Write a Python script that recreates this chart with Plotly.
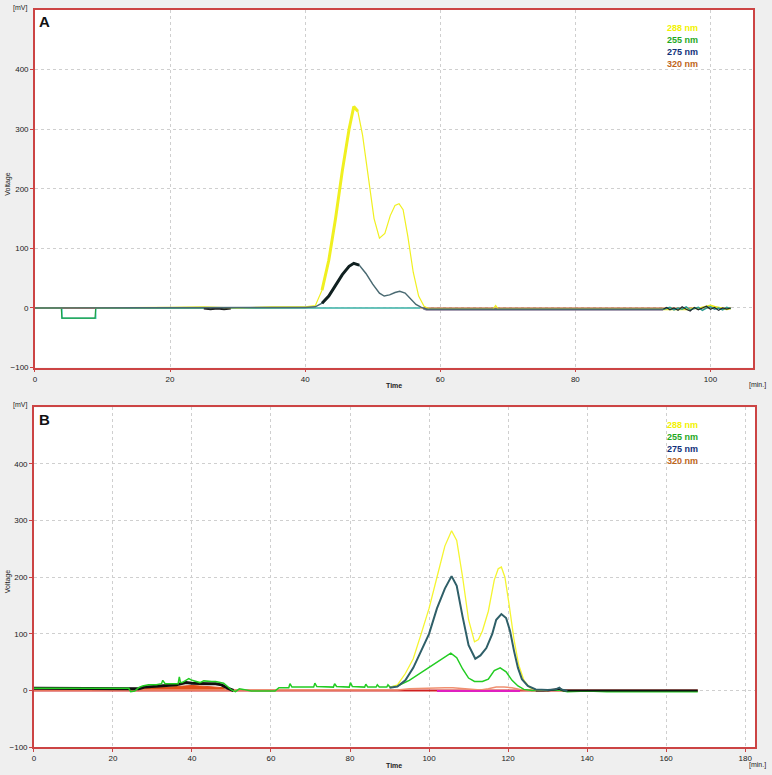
import plotly.graph_objects as go

# ---------- Painel A ----------
# 288 nm (amarelo)
ta_288 = [0, 5, 10, 15, 20, 25, 30, 35, 40, 41.5, 42.5, 43.5, 44.5, 45.5, 46.5, 47.2, 47.8,
          48.5, 49.3, 50.2, 51.0, 51.8, 52.6, 53.3, 53.9, 54.5, 55.2, 56.0, 56.8, 57.6, 58.5,
          65, 67.8, 68.2, 68.6, 75, 85, 93]
va_288 = [0, 0, 0, 0, 1, 2, 0, 2, 2, 4, 30, 80, 150, 230, 300, 338, 330,
          290, 220, 150, 117, 125, 155, 172, 175, 165, 120, 60, 20, 3, -2,
          -2, -2, 4, -2, -2, -2, -2]
# 275 nm (azul escuro / cinza)
ta_275 = [0, 10, 20, 30, 40, 41.5, 42.5, 43.5, 44.5, 45.5, 46.5, 47.2, 48, 49, 50, 51,
          51.7, 52.5, 53.3, 54, 54.8, 55.6, 56.4, 57.2, 58, 70, 85, 93]
va_275 = [0, 0, 0, 0, 1, 2, 8, 20, 38, 56, 70, 75, 72, 58, 40, 25,
          20, 22, 26, 28, 25, 15, 6, 1, -2, -2, -2, -2]
# 255 nm (verde) e ciano - degrau negativo no inicio
ta_255 = [0, 3.9, 4.0, 8.9, 9.0, 20, 22, 25, 30, 35, 40]
va_255 = [0, 0, -17, -17, 0, 0, 1, 0, 1, 1, 1]
ta_cyan = [0, 4, 4, 9, 9, 20, 40, 46, 52, 57]
va_cyan = [0, 0, -17, -17, 0, 0, 0, 1, 0, 0]
ta_mag = [4, 9]
va_mag = [0, 0]
# linha de base (roxo/cinza) depois dos picos
ta_base = [57.5, 58, 93]
va_base = [0, -2, -2]
# trechos pretos e ruido final
ta_blk1 = [25, 26, 27, 28, 29]
va_blk1 = [-1, -2, -1, -2, -1]
ta_noise = [93, 93.5, 94, 94.6, 95.2, 95.8, 96.4, 97, 97.6, 98.2, 98.8, 99.4, 100,
            100.6, 101.2, 101.8, 102.4, 103]
va_noise_blk = [-2, 1, -3, 0, -4, 2, -2, -5, 1, -3, 0, 3, -2, 1, -4, 0, -2, 0]
va_noise_teal = [-2, -1, 1, -3, 0, -2, 2, -3, -1, 1, -4, 0, 2, -2, 0, -3, 1, -1]
va_noise_yel = [-2, -2, -1, -2, -1, -2, -1, -2, 0, -1, 1, 3, 4, 2, 0, -1, -2, -1]

# ---------- Painel B ----------
tb_255 = [0, 5, 10, 15, 20, 24, 24.5, 25.5, 26.5, 27.5, 29, 31, 32.3, 32.6, 33.2, 35, 36.5,
          36.8, 37.1, 37.5, 38.5, 39.2, 40, 41, 42, 43, 44, 45, 46, 47, 48, 49, 50, 51,
          52, 53, 55, 58, 61, 62, 64.5, 64.8, 65.3, 67, 70.8, 71.1, 71.6, 75.8, 76.1,
          76.6, 79.8, 80.1, 80.6, 83.7, 84, 84.5, 86.6, 86.9, 87.4, 89.3, 89.6, 90.1,
          92, 95, 98, 101, 103.5, 105.5, 107, 108.5, 110, 111.5, 113.5, 115, 116.5,
          118, 119.5, 121, 122.5, 124, 126, 130, 133, 135, 140, 145, 150, 155, 160,
          165, 168]
vb_255 = [4, 4, 3, 3, 4, 4, -2, -1, 5, 8, 10, 10, 12, 18, 12, 12, 12,
          24, 14, 14, 18, 21, 18, 16, 14, 17, 16, 16, 16, 15, 13, 7, 1, -2,
          3, 2, -1, -1, -1, 5, 5, 12, 6, 6, 6, 13, 7, 6, 12,
          7, 6, 14, 7, 6, 11, 6, 6, 10, 6, 6, 10, 6,
          8, 18, 32, 45, 58, 66, 58, 38, 22, 16, 16, 20, 35,
          40, 33, 18, 8, 2, 0, 0, 1, -2, -1, -2, -2, -2, -1,
          -2, -2]
tb_blk = [0, 3, 26.5, 28, 31, 32.5, 33.5, 36, 37, 38.5, 40, 42, 44, 46, 47.5, 49, 50.5]
vb_blk = [4, 4, 3, 6, 8, 9, 9, 10, 12, 14, 13, 12, 12, 12, 10, 4, 0]
tb_blk2 = [127, 130, 133, 134, 140, 150, 160, 168]
vb_blk2 = [0, 0, 3, 0, 0, 0, 0, 0]
tb_fill = [26.5, 28, 30, 32, 34, 36, 38, 40, 42, 44, 46, 48, 48.5]
vb_fill = [0, 4, 6, 7, 6, 7, 8, 9, 8, 7, 7, 5, 0]
tb_red = [0, 50, 100, 168]
vb_red = [0, 0, 0, 0]
tb_320 = [0, 92, 95, 98, 101, 104, 106, 108, 110, 113, 115, 117, 119, 121, 123, 126, 168]
vb_320 = [1, 1, 3, 4, 5, 5, 5, 4, 2, 1, 3, 6, 6, 5, 2, 0, 0]
tb_mag = [102, 112, 123]
vb_mag = [-1, -1, -1]
tb_288 = [90, 92, 94, 96, 98, 100, 102, 104, 105.7, 107, 108.5, 110, 111.5, 112.5, 113.5,
          115, 116.5, 117.5, 118.3, 119.2, 120.3, 121.5, 122.7, 124, 125.5, 127, 130]
vb_288 = [5, 10, 30, 56, 100, 145, 200, 255, 282, 265, 200, 125, 86, 90, 105,
          140, 195, 215, 218, 200, 150, 90, 45, 18, 5, 1, 0]
tb_275 = [90, 92, 94, 96, 98, 100, 102, 104, 105.7, 107, 108.5, 110, 111.7, 113, 114.5,
          116, 117, 118.3, 119.5, 120.5, 121.5, 122.5, 123.5, 125, 127, 130, 132, 133, 133.5, 135]
vb_275 = [5, 7, 18, 40, 70, 100, 145, 180, 202, 185, 130, 80, 56, 62, 75,
          100, 125, 135, 128, 105, 70, 40, 20, 8, 2, 1, 2, 5, 2, -1]

legenda = ['288 nm', '255 nm', '275 nm', '320 nm']
cores_legenda = ['#f2f200', '#1ea81e', '#10307a', '#c0651a']

fig = go.Figure()


def linha(x, y, cor, larg, eixo, **kw):
    fig.add_trace(go.Scatter(x=x, y=y, mode='lines', line=dict(color=cor, width=larg),
                             xaxis='x' if eixo == 1 else 'x2',
                             yaxis='y' if eixo == 1 else 'y2',
                             showlegend=False, hoverinfo='skip', **kw))


# painel A
linha(ta_base, va_base, '#8a7f9a', 3, 1)
linha([0, 103], [0, 0], '#d07030', 1, 1)
linha(ta_cyan, va_cyan, '#40c8c8', 1.5, 1)
linha(ta_255, va_255, '#20a040', 1.2, 1)
linha(ta_mag, va_mag, '#c03070', 1.5, 1)
linha(ta_blk1, va_blk1, '#202020', 2, 1)
linha(ta_288, va_288, '#f0f020', 1.2, 1)
linha(ta_288[10:17], va_288[10:17], '#f0f020', 3, 1)
linha(ta_275, va_275, '#4a6a72', 1.5, 1)
linha(ta_275[6:13], va_275[6:13], '#102020', 3, 1)
linha(ta_noise, va_noise_yel, '#e8e820', 2, 1)
linha(ta_noise, va_noise_teal, '#2a9a90', 1.5, 1)
linha(ta_noise, va_noise_blk, '#202830', 1.2, 1)

# painel B
linha(tb_red, vb_red, '#d02020', 2, 2)
linha(tb_fill, vb_fill, '#e05018', 1, 2, fill='tozeroy', fillcolor='#e05018')
linha(tb_320, vb_320, '#f09070', 1.5, 2)
linha(tb_mag, vb_mag, '#e020c0', 2, 2)
linha(tb_blk, vb_blk, '#101010', 3, 2)
linha(tb_255, vb_255, '#22cc22', 1.5, 2)
linha(tb_blk2, vb_blk2, '#101010', 2, 2)
linha(tb_288, vb_288, '#f5f530', 1.3, 2)
linha(tb_275, vb_275, '#2f5f68', 2, 2)

W, H = 772, 775
eixo_x = dict(showgrid=True, gridcolor='#cfcfcf', griddash='dot', gridwidth=1,
              zeroline=False, showline=True, linecolor='#cc4444', linewidth=1.5, mirror=True,
              ticks='outside', ticklen=3, tickcolor='#cc4444',
              tickfont=dict(family='Liberation Sans', size=8, color='#222222'))
eixo_y = dict(eixo_x, range=[-100, 500], tickvals=[-100, 0, 100, 200, 300, 400])

fig.update_layout(
    width=W, height=H,
    margin=dict(l=0, r=0, t=0, b=0),
    paper_bgcolor='#efefef', plot_bgcolor='white',
    xaxis=dict(eixo_x, domain=[33 / W, 753 / W], range=[0, 106.3],
               tickvals=[0, 20, 40, 60, 80, 100], anchor='y'),
    yaxis=dict(eixo_y, domain=[1 - 370 / H, 1 - 10 / H], anchor='x'),
    xaxis2=dict(eixo_x, domain=[32 / W, 755 / W], range=[0, 182.5],
                tickvals=list(range(0, 181, 20)), anchor='y2'),
    yaxis2=dict(eixo_y, domain=[1 - 752 / H, 1 - 410 / H], anchor='x2'),
)

# textos (rotulos, legenda)
anot = []


def texto(x, y, t, tam=8, cor='#222222', bold=False, ang=0, xa='center'):
    anot.append(dict(x=x / W, y=1 - y / H, xref='paper', yref='paper', text=f'<b>{t}</b>' if bold else t,
                     showarrow=False, textangle=ang, xanchor=xa, yanchor='middle',
                     font=dict(family='Liberation Sans', size=tam, color=cor)))


for topo, base, painel in [(10, 370, 'A'), (410, 752, 'B')]:
    texto(18, topo - 2, '[mV]', 7)
    texto(6, topo + 175, 'Voltage', 7, ang=-90)
    texto(43, topo + 12, painel, 15, '#111111', bold=True)
    texto(393, base + 18, 'Time', 7, bold=True)
    texto(757, base + 18, '[min.]', 7)
    for i, (nome, cor) in enumerate(zip(legenda, cores_legenda)):
        texto(700, topo + 18 + i * 12, nome, 9, cor, bold=True, xa='right')

fig.update_layout(annotations=anot)
# tirar a margem padrao do body para o grafico ficar no canto
fig.write_html('out.html', config={'displayModeBar': False},
               post_script="document.body.style.margin='0px';")
